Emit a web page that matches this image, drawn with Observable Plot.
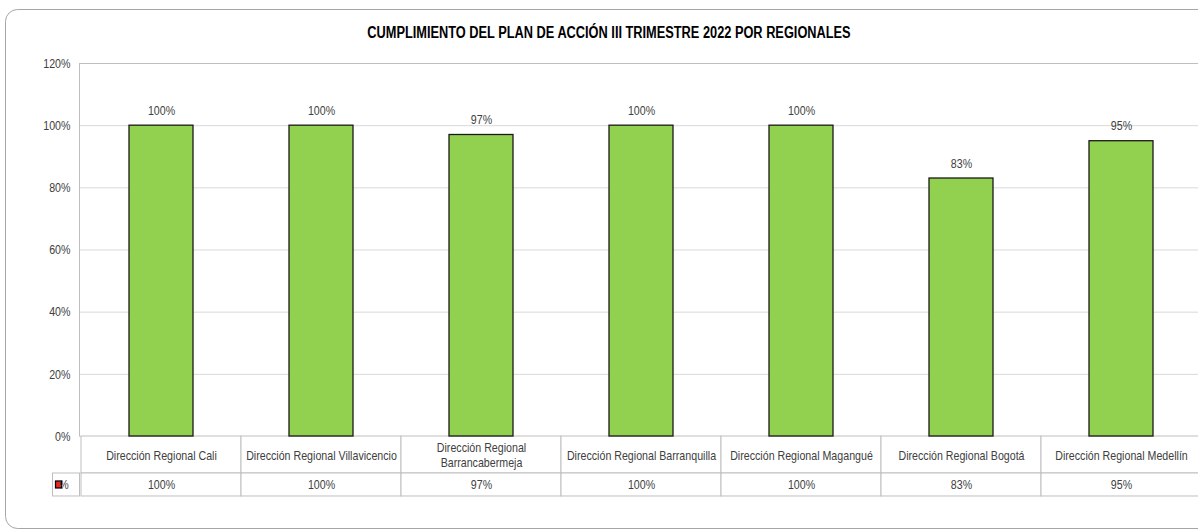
<!DOCTYPE html>
<html>
<head>
<meta charset="utf-8">
<script src="https://cdn.jsdelivr.net/npm/d3@7"></script>
<script src="https://cdn.jsdelivr.net/npm/@observablehq/plot@0.6"></script>
<style>
  html, body { margin: 0; padding: 0; background: #fff; }
  #chart svg { display: block; }
</style>
</head>
<body>
<div id="chart"></div>
<script>
const categories = [
  "Dirección Regional Cali",
  "Dirección Regional Villavicencio",
  "Dirección Regional Barrancabermeja",
  "Dirección Regional Barranquilla",
  "Dirección Regional Magangué",
  "Dirección Regional Bogotá",
  "Dirección Regional Medellín"
];
const categoryLabels = [
  "Dirección Regional Cali",
  "Dirección Regional Villavicencio",
  "Dirección Regional\nBarrancabermeja",
  "Dirección Regional Barranquilla",
  "Dirección Regional Magangué",
  "Dirección Regional Bogotá",
  "Dirección Regional Medellín"
];
const values = [100, 100, 97, 100, 100, 83, 95];
const yTicks = [0, 20, 40, 60, 80, 100, 120];
const seriesName = "%";
const title = "CUMPLIMIENTO DEL PLAN DE ACCIÓN III TRIMESTRE 2022 POR REGIONALES";

const data = categories.map((c, i) => ({cat: c, label: categoryLabels[i], value: values[i]}));

const FONT = "'Liberation Sans Narrow', 'Arial Narrow', 'Liberation Sans', Arial, sans-serif";
const NARROW = 0.82; // horizontal squeeze to mimic a narrow face
const FS = 13;
// table rows expressed in y-units below zero
const row1Bottom = -11.9, row2Bottom = -19.3;

const chart = Plot.plot({
  width: 1198,
  height: 531,
  marginLeft: 79,
  marginRight: 0,
  marginTop: 63,
  marginBottom: 95,
  x: {domain: categories, range: [79.5, 1202.5], padding: 0, axis: null},
  y: {domain: [0, 120], range: [436, 63], axis: null},
  style: {fontFamily: FONT, background: "white", overflow: "visible"},
  marks: [
    Plot.ruleY(yTicks.filter(d => d < 120), {stroke: "#d9d9d9", strokeWidth: 1}),
    Plot.ruleY([120], {stroke: "#bfbfbf", strokeWidth: 1}),
    Plot.axisY({ticks: yTicks, tickFormat: d => d + "%", tickSize: 0, tickPadding: 9, fontSize: FS, fill: "#404040", label: null}),
    // table cells
    Plot.barY(data, {x: "cat", y1: 0, y2: row1Bottom, fill: "white", stroke: "#bfbfbf", strokeWidth: 1}),
    Plot.barY(data, {x: "cat", y1: row1Bottom, y2: row2Bottom, fill: "white", stroke: "#bfbfbf", strokeWidth: 1}),
    // bars
    Plot.barY(data, {x: "cat", y: "value", fill: "#92d050", stroke: "#1a1a1a", strokeWidth: 1.3, insetLeft: 48, insetRight: 48}),
    Plot.text(data, {x: "cat", y: "value", text: d => d.value + "%", dy: -15, fontSize: FS, fill: "#404040"}),
    Plot.text(data, {x: "cat", y: row1Bottom / 2, text: "label", fontSize: FS, fill: "#404040", lineHeight: 1.1}),
    Plot.text(data, {x: "cat", y: (row1Bottom + row2Bottom) / 2, text: d => d.value + "%", fontSize: FS, fill: "#404040"})
  ]
});

const svg = d3.select(chart);
const ys = chart.scale("y");
// left axis line
svg.append("line").attr("x1", 79.5).attr("x2", 79.5).attr("y1", ys.apply(120)).attr("y2", ys.apply(0))
  .attr("stroke", "#bfbfbf");
// legend cell
const lx0 = 52.5, lx1 = 79.5, ly0 = ys.apply(row1Bottom), ly1 = ys.apply(row2Bottom);
svg.append("rect").attr("x", lx0).attr("y", ly0).attr("width", lx1 - lx0).attr("height", ly1 - ly0)
  .attr("fill", "white").attr("stroke", "#bfbfbf");
svg.append("rect").attr("x", 55.5).attr("y", (ly0 + ly1) / 2 - 3.5).attr("width", 6).attr("height", 7)
  .attr("fill", "#e8261c").attr("stroke", "#000").attr("stroke-width", 1.2);
svg.append("text").attr("x", 64).attr("y", (ly0 + ly1) / 2).attr("dy", "0.35em")
  .attr("font-size", FS).attr("fill", "#404040").attr("font-family", FONT).text(seriesName);
// title
svg.append("text").attr("x", 609).attr("y", 33).attr("dy", "0.35em").attr("text-anchor", "middle")
  .attr("font-size", 15.6).attr("font-weight", "bold").attr("fill", "#000").attr("font-family", FONT).text(title);
// outer frame
svg.insert("rect", ":first-child").attr("x", 5.5).attr("y", 9.5).attr("width", 1230).attr("height", 519)
  .attr("rx", 12).attr("fill", "white").attr("stroke", "#a6a6a6");

// squeeze all text horizontally about its anchor x
svg.selectAll("text").each(function() {
  const t = d3.select(this);
  const x = parseFloat(t.attr("x")) || 0;
  const prev = t.attr("transform") || "";
  t.attr("transform", `${prev} translate(${x},0) scale(${NARROW},1) translate(${-x},0)`);
});

document.getElementById("chart").appendChild(chart);
</script>
</body>
</html>
